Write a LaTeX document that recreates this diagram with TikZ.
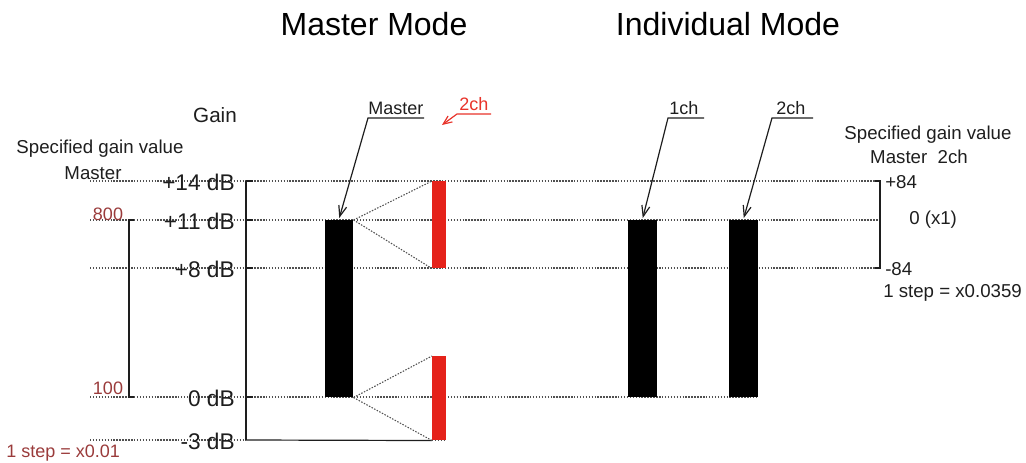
\documentclass[tikz,border=0pt]{standalone}
\usepackage{fontspec}
\setmainfont{Liberation Sans}
\usetikzlibrary{arrows.meta}
\definecolor{ink}{HTML}{1E1E1E}
\definecolor{barred}{HTML}{E5221A}
\definecolor{labred}{HTML}{E8332A}
\definecolor{valbrown}{HTML}{9A3B3B}
\definecolor{dotgray}{HTML}{505050}
\tikzset{
  level/.style={draw=dotgray, line width=0.8pt, dash pattern=on 1.1pt off 1.1pt},
  axis/.style={draw=ink, line width=0.9pt},
  blackbar/.style={fill=black, draw=none, inner sep=0pt, anchor=north west},
  redbar/.style={fill=barred, draw=none, inner sep=0pt, anchor=north west},
  title/.style={font=\fontsize{24}{28}\selectfont, text=black, inner sep=0pt},
  dblabel/.style={font=\fontsize{17}{20}\selectfont, text=ink, inner sep=0pt, anchor=east},
  small/.style={font=\fontsize{14}{17}\selectfont, text=ink, inner sep=0pt},
  value/.style={font=\fontsize{13.5}{16}\selectfont, text=valbrown, inner sep=0pt},
  tag/.style={font=\fontsize{13.5}{16}\selectfont, text=ink, inner sep=0pt, anchor=base west},
  lead/.style={draw=ink, line width=0.9pt, -{Straight Barb[length=8pt,width=6pt]}},
  redlead/.style={draw=labred, line width=0.9pt, -{Straight Barb[length=6.5pt,width=5.5pt]}},
}
\begin{document}
\begin{tikzpicture}[x=0.75pt, y=-0.75pt]
\useasboundingbox (0,0) rectangle (1026,463);

% ---- titles
\node[title] (t1) at (374,24) {Master Mode};
\node[title] (t2) at (728,24) {Individual Mode};

% ---- level lines
\coordinate (l14a) at (90,181);  \coordinate (l14b) at (876,181);
\coordinate (l11a) at (90,220);  \coordinate (l11b) at (880,220);
\coordinate (l8a)  at (90,268);  \coordinate (l8b)  at (876,268);
\coordinate (l0a)  at (90,397);  \coordinate (l0b)  at (756,397);
\coordinate (l3a)  at (90,440);  \coordinate (l3g)  at (246,440);
\draw[level] (l14a) -- (l14b);
\draw[level] (l11a) -- (l11b);
\draw[level] (l8a) -- (l8b);
\draw[level] (l0a) -- (l0b);
\draw[level] (l3a) -- (l3g);

% ---- gain axis with ticks
\coordinate (g14) at (246,181);
\coordinate (g11) at (246,220);
\coordinate (g8)  at (246,268);
\coordinate (g0)  at (246,397);
\draw[axis] (g14) -- (l3g);
\foreach \c in {g14,g11,g8,g0} \draw[axis] (\c) -- ++(7,0);

% ---- bars
\node[blackbar, minimum width=21pt, minimum height=132.75pt] (mbar) at (325,220) {};
\node[redbar, minimum width=10.5pt, minimum height=65.25pt] (rup) at (432,181) {};
\node[redbar, minimum width=10.5pt, minimum height=63pt] (rlo) at (432,356) {};
\node[blackbar, minimum width=21.75pt, minimum height=132.75pt] (c1bar) at (628,220) {};
\node[blackbar, minimum width=21.75pt, minimum height=132.75pt] (c2bar) at (729,220) {};

% ---- -3 dB line running into the lower 2ch bar
\draw[axis] (l3g) -- (rlo.south west);
\draw[level] (rlo.south west) -- (rlo.south east);

% ---- fan from master bar to 2ch range
\draw[level] (mbar.north east) -- (rup.north west);
\draw[level] (mbar.north east) -- (rup.south west);
\draw[level] (mbar.south east) -- (rlo.north west);
\draw[level] (mbar.south east) -- (rlo.south west);

% ---- left scale
\node[font=\fontsize{15.5}{18}\selectfont, text=ink, inner sep=0pt] (gain) at (215,115) {Gain};
\node[small] (spl) at (100,149) {Specified gain value};
\node[small] (spm) at (93,173) {Master};
\node[dblabel] (d14) at (235,182) {+14 dB};
\node[dblabel] (d11) at (235,221) {+11 dB};
\node[dblabel] (d8)  at (235,269) {+8 dB};
\node[dblabel] (d0)  at (235,398) {0 dB};
\node[dblabel] (dm3) at (235,441) {-3 dB};
\node[value] (v800) at (108,214) {800};
\node[value] (v100) at (108,388) {100};
\node[value, anchor=west] (vstep) at (6,453) {1 step = x0.01};
\coordinate (lb1) at (134,220); \coordinate (lb2) at (129,220);
\coordinate (lb3) at (129,397); \coordinate (lb4) at (134,397);
\draw[axis] (lb1) -- (lb2) -- (lb3) -- (lb4);

% ---- callouts
\node[tag] (mtag) at (368,115) {Master};
\coordinate (mu1) at (368,118); \coordinate (mu2) at (424,118);
\draw[lead] (mu2) -- (mu1) -- ([yshift=1.5pt]mbar.north);

\node[tag, text=labred] (rtag) at (459,111) {2ch};
\coordinate (ru1) at (457,114); \coordinate (ru2) at (491,114);
\coordinate (rtip) at (442,125);
\draw[redlead] (ru2) -- (ru1) -- (rtip);

\node[tag] (c1tag) at (669,115) {1ch};
\coordinate (cu1) at (668,118); \coordinate (cu2) at (704,118);
\draw[lead] (cu2) -- (cu1) -- ([yshift=1.5pt]c1bar.north);

\node[tag] (c2tag) at (776,115) {2ch};
\coordinate (du1) at (772,118); \coordinate (du2) at (813,118);
\draw[lead] (du2) -- (du1) -- ([yshift=1.5pt]c2bar.north);

% ---- right scale
\coordinate (rb1) at (875,181); \coordinate (rb2) at (880,181);
\coordinate (rb3) at (880,268); \coordinate (rb4) at (875,268);
\draw[axis] (rb1) -- (rb2) -- (rb3) -- (rb4);
\node[small] (spr) at (928,135) {Specified gain value};
\node[small] (spr2) at (919,157) {Master\ \ 2ch};
\node[small, anchor=west] (p84) at (885,182) {+84};
\node[small, anchor=west] (z1) at (909,220) {0 (x1)};
\node[small, anchor=west] (m84) at (885,269) {-84};
\node[small, anchor=west] (rstep) at (883,293) {1 step = x0.0359};
\end{tikzpicture}
\end{document}
